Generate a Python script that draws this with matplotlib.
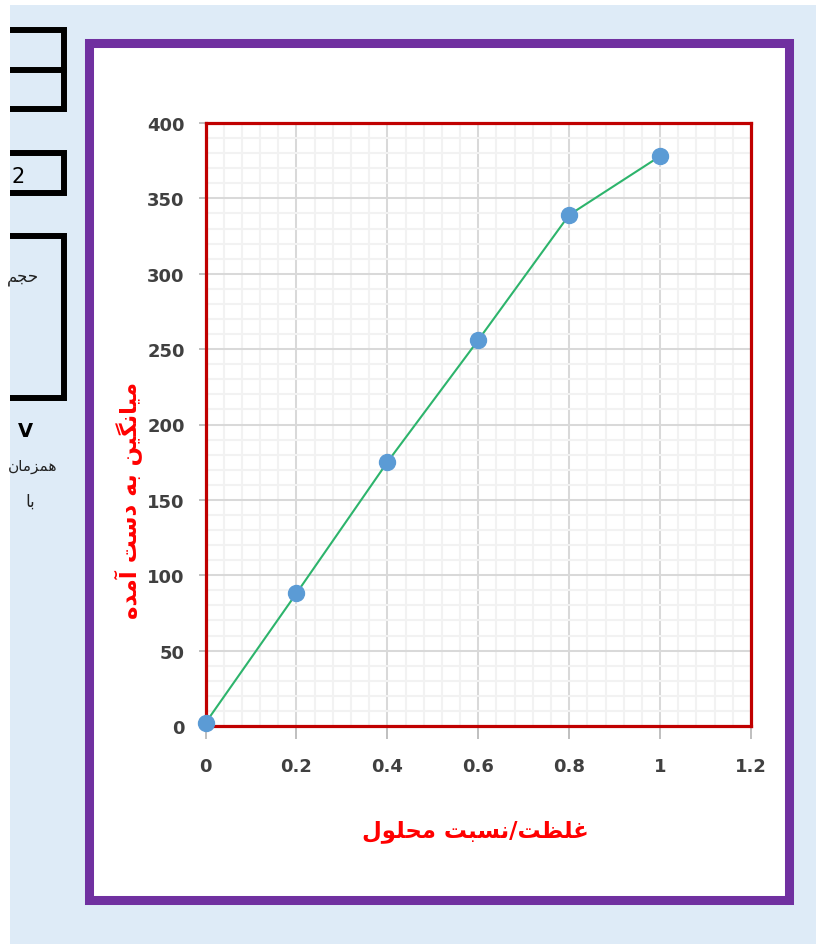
import matplotlib
matplotlib.use("Agg")
import matplotlib.pyplot as plt
from matplotlib.patches import Rectangle
from matplotlib.ticker import MultipleLocator

# ---- data ----
concentration = [0, 0.2, 0.4, 0.6, 0.8, 1.0]
mean_value = [2, 88, 175, 256, 339, 378]
x_ticks = [0, 0.2, 0.4, 0.6, 0.8, 1.0, 1.2]
x_tick_labels = ["0", "0.2", "0.4", "0.6", "0.8", "1", "1.2"]
y_ticks = [0, 50, 100, 150, 200, 250, 300, 350, 400]
y_tick_labels = ["0", "50", "100", "150", "200", "250", "300", "350", "400"]
x_label = "غلظت/نسبت محلول"
y_label = "میانگین به دست آمده"

BG = "#DEEBF7"
PURPLE = "#7030A0"
RED = "#C00000"
LABEL_RED = "#FF0000"
MARKER = "#5B9BD5"
LINE = "#2DB46C"

# Persian letters -> (isolated, final, initial, medial) presentation forms
FORMS = {
    "ا": ("\uFE8D", "\uFE8E", None, None),
    "آ": ("\uFE81", "\uFE82", None, None),
    "ب": ("\uFE8F", "\uFE90", "\uFE91", "\uFE92"),
    "ت": ("\uFE95", "\uFE96", "\uFE97", "\uFE98"),
    "ج": ("\uFE9D", "\uFE9E", "\uFE9F", "\uFEA0"),
    "ح": ("\uFEA1", "\uFEA2", "\uFEA3", "\uFEA4"),
    "د": ("\uFEA9", "\uFEAA", None, None),
    "ز": ("\uFEAF", "\uFEB0", None, None),
    "س": ("\uFEB1", "\uFEB2", "\uFEB3", "\uFEB4"),
    "ظ": ("\uFEC5", "\uFEC6", "\uFEC7", "\uFEC8"),
    "غ": ("\uFECD", "\uFECE", "\uFECF", "\uFED0"),
    "ل": ("\uFEDD", "\uFEDE", "\uFEDF", "\uFEE0"),
    "م": ("\uFEE1", "\uFEE2", "\uFEE3", "\uFEE4"),
    "ن": ("\uFEE5", "\uFEE6", "\uFEE7", "\uFEE8"),
    "ه": ("\uFEE9", "\uFEEA", "\uFEEB", "\uFEEC"),
    "و": ("\uFEED", "\uFEEE", None, None),
    "ی": ("\uFBFC", "\uFBFD", "\uFBFE", "\uFBFF"),
    "گ": ("\uFB92", "\uFB93", "\uFB94", "\uFB95"),
}


def shape(s):
    """Crude Persian shaping + reversal so matplotlib draws it right-to-left."""
    out = []
    for i, c in enumerate(s):
        if c not in FORMS:
            out.append(c)
            continue
        prev = s[i - 1] if i > 0 else ""
        nxt = s[i + 1] if i + 1 < len(s) else ""
        f = FORMS[c]
        jp = prev in FORMS and FORMS[prev][2] is not None
        jn = nxt in FORMS and f[2] is not None
        if jp and jn:
            g = f[3]
        elif jp:
            g = f[1]
        elif jn:
            g = f[2]
        else:
            g = f[0]
        out.append(g)
    return "".join(reversed(out))


W, H = 816, 945
fig = plt.figure(figsize=(W / 100, H / 100), dpi=100, facecolor="white")

# ---- background layer in pixel coords (clipped at x=10, y=6) ----
bg = fig.add_axes([10 / W, 0, (W - 10) / W, (H - 6) / H])
bg.set_xlim(10, W)
bg.set_ylim(H, 6)
bg.axis("off")
bg.add_patch(Rectangle((10, 6), W - 10, H - 6, facecolor=BG, edgecolor="none"))

box_lw = 4.3
for top, bot in [(31, 110), (154, 194), (237, 399)]:
    bg.plot([0, 64, 64, 0], [top, top, bot, bot], color="black", lw=box_lw,
            solid_joinstyle="miter", solid_capstyle="projecting")
bg.plot([0, 64], [71, 71], color="black", lw=box_lw)

# small texts at the left edge (only fragments are visible in the source)
side_texts = [
    (25, 177, "2", 15, "normal"),
    (39, 277, shape("حجم"), 12, "normal"),
    (33, 432, "V", 14, "bold"),
    (57, 467, shape("همزمان"), 11, "normal"),
    (35, 502, shape("با"), 12, "normal"),
]
for x, y, s, fs, fw in side_texts:
    bg.text(x, y, s, ha="right", va="center", fontsize=fs, fontweight=fw,
            color="black" if fw == "bold" or s == "2" else "#222222")

bg.add_patch(Rectangle((88.5, 43.5), 700, 857, facecolor="white",
                       edgecolor=PURPLE, lw=6.5))

# ---- chart ----
ax = fig.add_axes([205.5 / W, (H - 727) / H, 545.5 / W, 603 / H])
ax.set_facecolor("white")
ax.set_xlim(0, 1.2)
ax.set_ylim(0, 400)

ax.xaxis.set_minor_locator(MultipleLocator(0.04))
ax.yaxis.set_minor_locator(MultipleLocator(10))
ax.grid(which="minor", color="#F2F2F2", lw=1.45)
ax.grid(which="major", color="#D9D9D9", lw=1.45)
ax.set_axisbelow(True)

ax.set_xticks(x_ticks)
ax.set_xticklabels(x_tick_labels)
ax.set_yticks(y_ticks)
ax.set_yticklabels(y_tick_labels)
ax.tick_params(which="minor", length=0)
ax.tick_params(axis="y", which="major", direction="out", length=5, width=1.4,
               color="#BFBFBF", pad=10, labelsize=13, labelcolor="#404040")
ax.tick_params(axis="x", which="major", direction="out", length=9, width=1.4,
               color="#BFBFBF", pad=13, labelsize=13, labelcolor="#404040")
for lab in ax.get_xticklabels() + ax.get_yticklabels():
    lab.set_fontweight("bold")

for sp in ax.spines.values():
    sp.set_color(RED)
    sp.set_linewidth(2.3)

ax.plot(concentration, mean_value, color=LINE, lw=1.5, marker="o",
        markersize=11.5, markerfacecolor=MARKER, markeredgecolor=MARKER,
        zorder=5, clip_on=False)

ax.set_xlabel(shape(x_label), color=LABEL_RED, fontsize=16.5,
              fontweight="bold", va="center")
ax.xaxis.set_label_coords(0.495, -0.174)
ax.set_ylabel(shape(y_label), color=LABEL_RED, fontsize=16.5,
              fontweight="bold", va="center")
ax.yaxis.set_label_coords(-0.14, 0.376)

fig.savefig("out.png", dpi=100)
